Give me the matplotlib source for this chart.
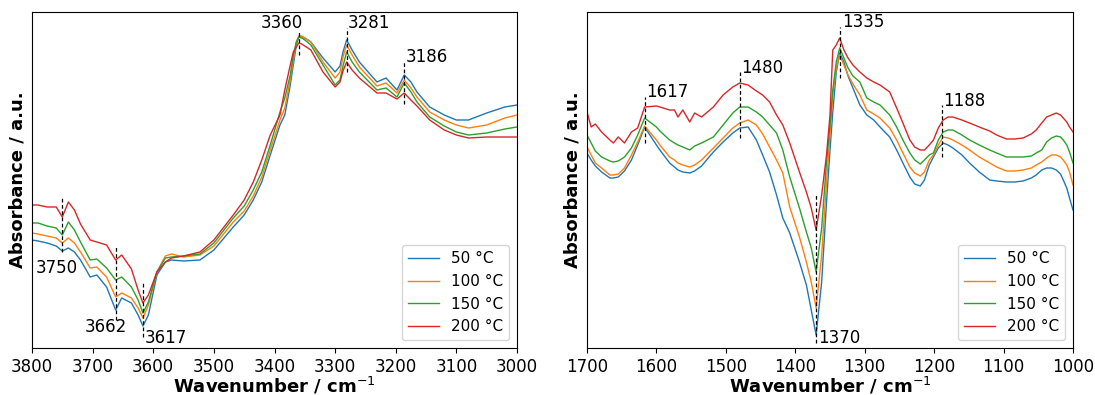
import matplotlib
matplotlib.use("Agg")
import matplotlib.pyplot as plt

plt.rcParams['font.family'] = ['DejaVu Sans']

# Series labels and colours
temps = ['50 °C', '100 °C', '150 °C', '200 °C']
colors = ['#1f77b4', '#ff7f0e', '#2ca02c', '#d62728']

# ---- OH stretching region (3800-3000 cm-1), absorbance in arbitrary units ----
wn_oh = [3800, 3790, 3775, 3760, 3750, 3740, 3730, 3720, 3704, 3693,
         3677, 3662, 3652, 3636, 3625, 3617, 3608, 3594, 3580, 3570,
         3550, 3523, 3500, 3468, 3450, 3435, 3421, 3407, 3391, 3383,
         3374, 3369, 3364, 3360, 3355, 3350, 3340, 3320, 3300, 3292,
         3287, 3281, 3272, 3260, 3231, 3216, 3198, 3186, 3175, 3165,
         3144, 3120, 3100, 3080, 3050, 3020, 3000]

oh_50 = [108, 107, 105, 102, 97, 100, 96, 88, 71, 73,
         61, 38, 50, 45, 33, 22, 33, 73, 86, 88,
         87, 88, 98, 121, 133, 148, 166, 193, 223, 233,
         263, 283, 303, 311, 311, 310, 306, 290, 276, 282,
         296, 308, 298, 286, 266, 270, 258, 273, 266, 256,
         241, 233, 228, 228, 235, 241, 243]

oh_100 = [115, 114, 112, 110, 105, 110, 105, 96, 80, 81,
          71, 51, 55, 50, 40, 30, 43, 76, 92, 94,
          91, 93, 102, 126, 137, 152, 171, 198, 228, 240,
          268, 288, 306, 312, 312, 310, 306, 286, 270, 276,
          291, 303, 293, 281, 262, 265, 255, 268, 260, 251,
          236, 228, 223, 220, 223, 230, 233]

oh_150 = [125, 125, 122, 120, 113, 126, 118, 106, 88, 89,
          80, 68, 71, 61, 48, 35, 46, 76, 90, 91,
          92, 94, 105, 130, 142, 158, 176, 203, 236, 250,
          273, 293, 306, 311, 310, 308, 303, 283, 263, 268,
          282, 296, 286, 276, 258, 260, 251, 265, 256, 246,
          231, 222, 216, 213, 215, 219, 221]

oh_200 = [143, 143, 141, 141, 131, 146, 138, 124, 108, 106,
          103, 88, 93, 79, 58, 45, 53, 76, 86, 90,
          92, 96, 108, 133, 148, 166, 188, 213, 233, 258,
          283, 296, 301, 305, 304, 302, 298, 276, 261, 266,
          277, 286, 278, 270, 255, 255, 249, 255, 248, 242,
          228, 218, 213, 210, 211, 211, 211]

# ---- Fingerprint region (1700-1000 cm-1) ----
wn_fp = [1700, 1694, 1688, 1679, 1667, 1662, 1655, 1646, 1636, 1627,
         1617, 1600, 1595, 1581, 1574, 1569, 1562, 1552, 1545, 1535,
         1518, 1504, 1490, 1480, 1468, 1456, 1447, 1437, 1427, 1418,
         1408, 1394, 1384, 1377, 1370, 1362, 1355, 1350, 1346, 1341,
         1336, 1330, 1324, 1317, 1307, 1297, 1287, 1278, 1264, 1254,
         1245, 1235, 1228, 1220, 1214, 1207, 1201, 1194, 1187, 1180,
         1173, 1160, 1149, 1135, 1120, 1110, 1096, 1084, 1072, 1060,
         1053, 1045, 1038, 1031, 1024, 1018, 1014, 1009, 1005, 1000]

fp_50 = [195, 188, 182, 176, 170, 170, 171, 177, 188, 203,
         221, 203, 198, 185, 181, 178, 176, 175, 177, 182,
         196, 206, 215, 220, 221, 208, 193, 176, 153, 130,
         115, 86, 63, 38, 13, 66, 146, 198, 236, 276,
         295, 286, 272, 260, 243, 233, 228, 221, 211, 198,
         185, 171, 164, 162, 168, 183, 191, 200, 205, 203,
         200, 193, 185, 176, 168, 167, 166, 166, 167, 170,
         173, 178, 180, 180, 178, 174, 168, 160, 150, 138]

fp_100 = [201, 193, 185, 180, 173, 173, 174, 180, 193, 206,
          222, 208, 203, 191, 188, 185, 183, 181, 183, 188,
          200, 210, 220, 225, 228, 223, 214, 201, 188, 175,
          141, 111, 86, 66, 40, 93, 166, 213, 253, 280,
          293, 283, 273, 264, 253, 238, 234, 230, 220, 208,
          195, 181, 175, 172, 176, 188, 193, 203, 211, 210,
          208, 203, 198, 191, 185, 181, 177, 177, 178, 180,
          183, 186, 190, 193, 193, 191, 188, 183, 176, 163]

fp_150 = [213, 205, 197, 191, 187, 186, 187, 191, 200, 213,
          230, 221, 217, 208, 205, 203, 201, 198, 202, 205,
          211, 223, 235, 241, 241, 236, 231, 223, 215, 198,
          171, 140, 116, 100, 76, 120, 186, 223, 258, 286,
          300, 290, 280, 272, 266, 250, 246, 243, 233, 221,
          208, 195, 188, 184, 188, 193, 195, 208, 216, 218,
          218, 213, 208, 203, 198, 195, 191, 191, 191, 192,
          195, 198, 206, 210, 212, 211, 208, 203, 196, 185]

fp_200 = [236, 221, 224, 216, 208, 205, 211, 205, 216, 220,
          241, 242, 241, 238, 238, 231, 238, 226, 235, 231,
          241, 253, 261, 265, 263, 257, 253, 246, 233, 223,
          205, 176, 156, 140, 118, 153, 193, 233, 298, 303,
          310, 298, 290, 283, 276, 270, 266, 263, 256, 240,
          225, 208, 201, 198, 198, 203, 208, 220, 228, 231,
          231, 228, 225, 221, 217, 213, 209, 209, 210, 214,
          218, 225, 231, 233, 235, 233, 230, 226, 221, 216]

# Band markers: position, dashed-line span, label height, alignment, label offset (cm-1)
bands_oh = [
    (3750, 96, 151, 75, 'center', 9.6),
    (3662, 28, 103, 16, 'right', -19.0),
    (3617, 11, 65, 5, 'left', -3.4),
    (3360, 293, 318, 320, 'right', -7.0),
    (3281, 276, 320, 320, 'left', -1.0),
    (3186, 244, 286, 286, 'left', -3.0),
]
bands_fp = [
    (1617, 205, 251, 251, 'left', -1.5),
    (1480, 210, 276, 275, 'left', -1.5),
    (1370, 5, 155, 5, 'left', -3.0),
    (1335, 270, 321, 321, 'left', -2.0),
    (1188, 191, 243, 242, 'left', -1.5),
]

fig = plt.figure(figsize=(10.95, 3.95), dpi=100)
W, H = 1095.0, 395.0
ax1 = fig.add_axes([32 / W, 1 - 348 / H, 485 / W, 336 / H])
ax2 = fig.add_axes([587 / W, 1 - 348 / H, 486 / W, 336 / H])


def draw_panel(ax, wn, series, bands, xlim, xticks):
    for vals, lab, col in zip(series, temps, colors):
        ax.plot(wn, vals, color=col, lw=1.0, label=lab)
    for pos, y0, y1, ty, ha, off in bands:
        ax.plot([pos, pos], [y0, y1], ls='--', color='black', lw=0.9,
                dashes=(3, 2))
        ax.text(pos + off, ty, str(pos), ha=ha, va='baseline', fontsize=12)
    ax.set_xlim(*xlim)
    ax.set_ylim(0, 336)
    ax.set_xticks(xticks)
    ax.set_yticks([])
    ax.tick_params(axis='x', labelsize=12)
    ax.set_xlabel('Wavenumber / cm$^{-1}$', fontsize=13, fontweight='bold',
                  labelpad=0)
    ax.set_ylabel('Absorbance / a.u.', fontsize=13, fontweight='bold')
    ax.legend(loc='lower right', fontsize=11)


draw_panel(ax1, wn_oh, [oh_50, oh_100, oh_150, oh_200], bands_oh,
           (3800, 3000), list(range(3800, 2999, -100)))
draw_panel(ax2, wn_fp, [fp_50, fp_100, fp_150, fp_200], bands_fp,
           (1700, 1000), list(range(1700, 999, -100)))

fig.savefig('out.png', dpi=100)
